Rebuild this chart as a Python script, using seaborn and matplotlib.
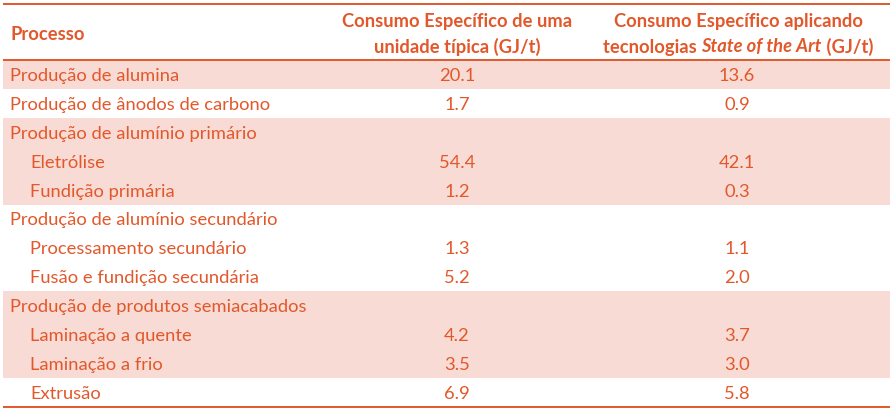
import matplotlib
matplotlib.use("Agg")
import matplotlib.pyplot as plt
import seaborn as sns

sns.set_theme(style="white")
plt.rcParams["font.family"] = ["Lato", "DejaVu Sans"]

# table content
processos = ["Produção de alumina", "Produção de ânodos de carbono",
             "Produção de alumínio primário", "Eletrólise", "Fundição primária",
             "Produção de alumínio secundário", "Processamento secundário",
             "Fusão e fundição secundária", "Produção de produtos semiacabados",
             "Laminação a quente", "Laminação a frio", "Extrusão"]
nivel = [0, 0, 0, 1, 1, 0, 1, 1, 0, 1, 1, 1]
consumo_tipico = ["20.1", "1.7", "", "54.4", "1.2", "", "1.3", "5.2", "", "4.2", "3.5", "6.9"]
consumo_sota = ["13.6", "0.9", "", "42.1", "0.3", "", "1.1", "2.0", "", "3.7", "3.0", "5.8"]
sombreado = [1, 0, 1, 1, 1, 0, 0, 0, 1, 1, 1, 0]

cor = "#E2582B"
fundo = "#F8DBD4"
fs = 13.2

W, H = 894, 411
fig = plt.figure(figsize=(W / 100, H / 100), dpi=100)
ax = fig.add_axes([0, 0, 1, 1])
ax.set_xlim(0, W)
ax.set_ylim(H, 0)
ax.axis("off")

x0, x1 = 3, 890
y_top, y_head = 4, 60
row_h = 28.9
col2, col3 = 457, 737

for i, (nome, nv, v1, v2, sh) in enumerate(zip(processos, nivel, consumo_tipico, consumo_sota, sombreado)):
    ya = y_head + i * row_h
    yc = ya + row_h / 2 + 1.5
    if sh:
        ax.fill_between([x0, x1], ya, ya + row_h, color=fundo, lw=0)
    ax.text(10 + 20 * nv, yc, nome, color=cor, fontsize=fs, va="center", ha="left")
    ax.text(col2, yc, v1, color=cor, fontsize=fs, va="center", ha="center")
    ax.text(col3, yc, v2, color=cor, fontsize=fs, va="center", ha="center")

y_bot = y_head + len(processos) * row_h
for y in (y_top, y_head, y_bot):
    ax.plot([x0, x1], [y, y], color=cor, lw=1.4, solid_capstyle="butt")

# header
ax.text(10, 35, "Processo", color=cor, fontsize=fs, fontweight="bold", va="center")
ax.text(457, 22, "Consumo Específico de uma", color=cor, fontsize=fs, fontweight="bold", va="center", ha="center")
ax.text(457, 47, "unidade típica (GJ/t)", color=cor, fontsize=fs, fontweight="bold", va="center", ha="center")
ax.text(738, 22, "Consumo Específico aplicando", color=cor, fontsize=fs, fontweight="bold", va="center", ha="center")

# mixed normal / italic line
partes = [("tecnologias ", "normal"), ("State of the Art", "italic"), (" (GJ/t)", "normal")]
fig.canvas.draw()
rend = fig.canvas.get_renderer()
objs = []
for txt, est in partes:
    t = ax.text(0, 47, txt, color=cor, fontsize=fs, fontweight="bold", style=est, va="center", ha="left")
    objs.append(t)
larg = [t.get_window_extent(rend).width for t in objs]
xs = 738 - sum(larg) / 2
for t, w in zip(objs, larg):
    t.set_x(xs)
    xs += w

fig.savefig("out.png", dpi=100, facecolor="white")
